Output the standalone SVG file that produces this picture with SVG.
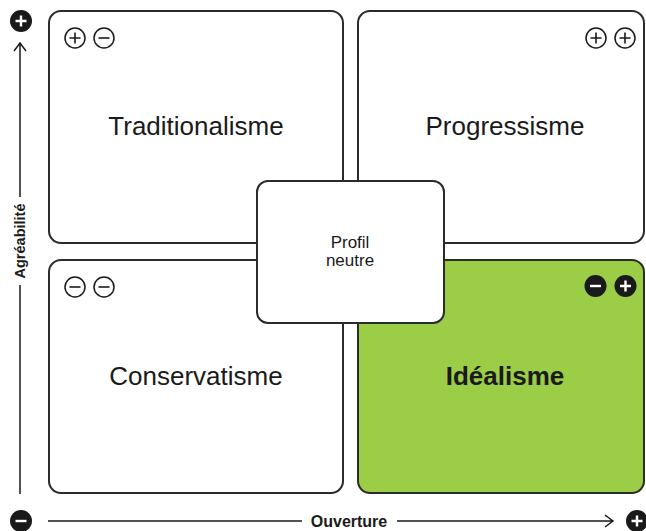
<svg xmlns="http://www.w3.org/2000/svg" width="646" height="531" viewBox="0 0 646 531">
<defs>
<style>
.box{fill:#fff;stroke:#2b2b2b;stroke-width:2}
.lbl{font-family:"Liberation Sans",Arial,sans-serif;fill:#1a1a1a;text-anchor:middle}
.ic{fill:none;stroke:#1a1a1a;stroke-width:1.5}
.icf{fill:#1a1a1a}
.sym{stroke:#1a1a1a;stroke-width:1.6;fill:none}
.symw{stroke:#fff;stroke-width:2.4;fill:none}
.ax{stroke:#1a1a1a;stroke-width:1.5;fill:none}
</style>
</defs>
<g id="q-trad">
<rect class="box" x="49" y="11" width="294" height="232" rx="12"/>
<circle class="ic" cx="75" cy="38" r="10"/><path class="sym" d="M69.5 38h11M75 32.5v11"/>
<circle class="ic" cx="104" cy="38" r="10"/><path class="sym" d="M98.5 38h11"/>
<text class="lbl" x="196" y="135" font-size="26">Traditionalisme</text>
</g>
<g id="q-prog">
<rect class="box" x="358" y="11" width="286" height="232" rx="12"/>
<circle class="ic" cx="596" cy="38" r="10"/><path class="sym" d="M590.5 38h11M596 32.5v11"/>
<circle class="ic" cx="625" cy="38" r="10"/><path class="sym" d="M619.5 38h11M625 32.5v11"/>
<text class="lbl" x="505" y="135" font-size="26">Progressisme</text>
</g>
<g id="q-cons">
<rect class="box" x="49" y="260" width="294" height="233" rx="12"/>
<circle class="ic" cx="75" cy="287" r="10"/><path class="sym" d="M69.5 287h11"/>
<circle class="ic" cx="104" cy="287" r="10"/><path class="sym" d="M98.5 287h11"/>
<text class="lbl" x="196" y="385" font-size="26">Conservatisme</text>
</g>
<g id="q-ideal">
<rect class="box" x="358" y="260" width="286" height="233" rx="12" style="fill:#9ccd46"/>
<circle class="icf" cx="595.5" cy="286" r="11"/><path class="symw" d="M590 286h11"/>
<circle class="icf" cx="625.5" cy="286" r="11"/><path class="symw" d="M620 286h11M625.5 280.5v11"/>
<text class="lbl" x="505" y="385" font-size="26" font-weight="bold">Idéalisme</text>
</g>
<g id="center">
<rect class="box" x="257" y="181" width="187" height="142" rx="11"/>
<text class="lbl" x="350" y="248" font-size="17">Profil</text>
<text class="lbl" x="350" y="266" font-size="17">neutre</text>
</g>
<g id="axes">
<circle class="icf" cx="21" cy="21" r="11"/><path class="symw" d="M15.5 21h11M21 15.5v11"/>
<path class="ax" d="M20 43V197M20 285V494M14 51l6-8 6 8"/>
<text class="lbl" x="0" y="0" font-size="14.5" font-weight="bold" transform="translate(25 241) rotate(-90)">Agréabilité</text>
<circle class="icf" cx="21" cy="521" r="11"/><path class="symw" d="M15.5 521h11"/>
<path class="ax" d="M48 521H302M397 521H613M605 515l8 6-8 6"/>
<text class="lbl" x="349" y="527" font-size="16" font-weight="bold">Ouverture</text>
<circle class="icf" cx="637" cy="521" r="11"/><path class="symw" d="M631.5 521h11M637 515.5v11"/>
</g>
</svg>
